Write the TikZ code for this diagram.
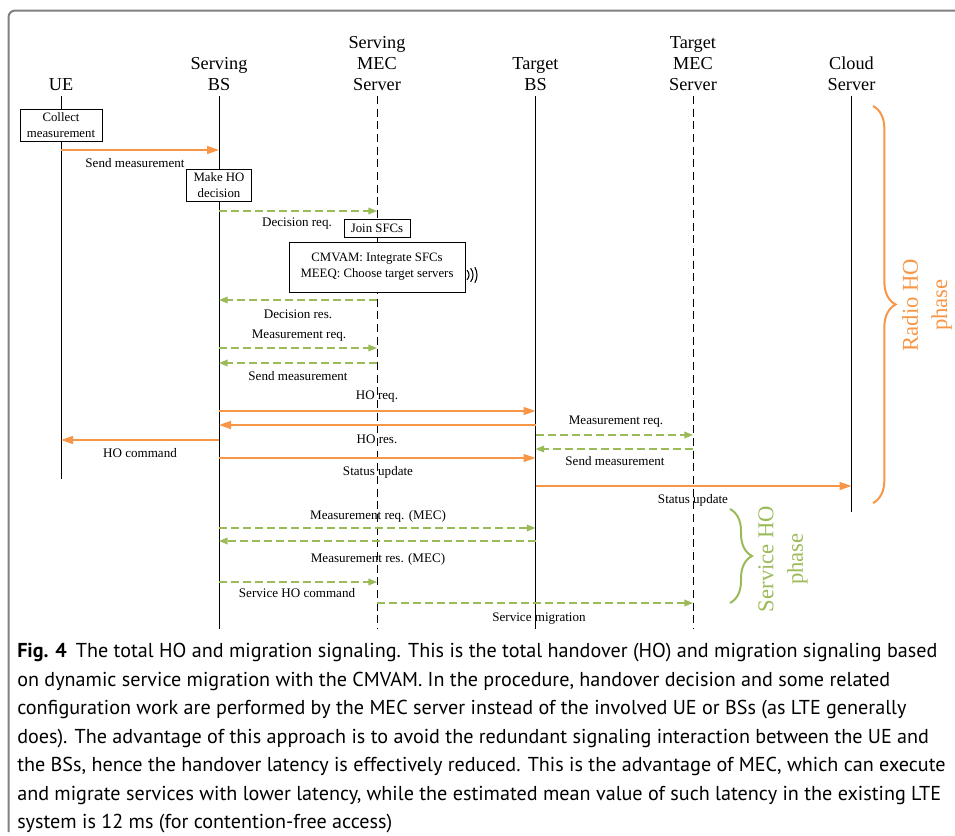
\documentclass[tikz,border=0pt]{standalone}
\usepackage{fontspec}
\setmainfont{Liberation Serif}
\newfontfamily\capfont{PT Sans}
\usepackage{tikz}
\usetikzlibrary{arrows.meta,decorations.pathreplacing}
\definecolor{hoorange}{RGB}{247,150,70}
\definecolor{hogreen}{RGB}{155,187,89}
\definecolor{framegray}{RGB}{128,128,128}
\tikzstyle{headlabel} = [anchor=south, align=center, inner sep=4pt, font=\fontsize{13.7}{15.8}\selectfont]
\tikzstyle{actbox} = [draw=black, thin, rectangle, fill=white, align=center, inner sep=1pt, font=\fontsize{9.6}{12}\selectfont]
\tikzstyle{msglabel} = [inner sep=0pt, font=\fontsize{9.8}{12}\selectfont]
\tikzstyle{lifeline} = [black, thin]
\tikzstyle{meclife} = [black, thin, dash pattern=on 6pt off 3.5pt]
\tikzstyle{radiomsg} = [hoorange, line width=1.1pt, -{Triangle[length=9pt,width=6pt]}]
\tikzstyle{servmsg} = [hogreen, line width=1.1pt, dash pattern=on 6pt off 3pt, -{Triangle[length=6.5pt,width=5pt]}]
\tikzstyle{phasebrace} = [line width=1.5pt, decorate, decoration={brace, amplitude=17pt}]
\tikzstyle{phaselabel} = [rotate=90, align=center, inner sep=0pt, font=\fontsize{17}{22}\selectfont]

\begin{document}
\begin{tikzpicture}[x=0.75pt,y=-0.75pt]
\useasboundingbox (0,0) rectangle (955,835);
\draw[framegray, line width=1.5pt, rounded corners=5pt] (8.5,832) -- (8.5,10.5) -- (957,10.5);

% entities
\node[headlabel] (ue) at (61,96) {UE};
\node[headlabel] (sbs) at (219,96) {Serving\\BS};
\node[headlabel] (smec) at (377,96) {Serving\\MEC\\Server};
\node[headlabel] (tbs) at (535.5,96) {Target\\BS};
\node[headlabel] (tmec) at (693,96) {Target\\MEC\\Server};
\node[headlabel] (cloud) at (851.5,96) {Cloud\\Server};

% lifelines
\coordinate (ue-end) at (61,479);
\coordinate (sbs-end) at (219,629);
\coordinate (smec-end) at (377,629);
\coordinate (tbs-end) at (535.5,629);
\coordinate (tmec-end) at (693,629);
\coordinate (cloud-end) at (851.5,512);
\draw[lifeline] (ue.south) -- (ue-end);
\draw[lifeline] (sbs.south) -- (sbs-end);
\draw[meclife] (smec.south) -- (smec-end);
\draw[lifeline] (tbs.south) -- (tbs-end);
\draw[meclife] (tmec.south) -- (tmec-end);
\draw[lifeline] (cloud.south) -- (cloud-end);

% local actions
\node[actbox, minimum width=61.5pt, minimum height=24pt] (collect) at (61,125) {Collect\\measurement};
\node[actbox, minimum width=48.75pt, minimum height=24pt] (makeho) at (219,185) {Make HO\\decision};
\node[actbox, minimum width=49.5pt, minimum height=13.5pt] (join) at (377,228) {Join SFCs};
\node[actbox, minimum width=132pt, minimum height=37.5pt] (cmvam) at (377,267) {CMVAM: Integrate SFCs\\MEEQ: Choose target servers};
\coordinate (wifi) at (462,275);
\foreach \r/\a in {7/45,11/38,15/31}
  \draw[black, line width=0.8pt] (wifi) ++(-\a:\r) arc[start angle=-\a, end angle=\a, radius=\r];

% radio HO signaling
\draw[radiomsg] (ue |- 0,150) -- (sbs |- 0,150);
\draw[servmsg] (sbs |- 0,211) -- (smec |- 0,211);
\draw[servmsg] (smec |- 0,300) -- (sbs |- 0,300);
\draw[servmsg] (sbs |- 0,348) -- (smec |- 0,348);
\draw[servmsg] (smec |- 0,363) -- (sbs |- 0,363);
\draw[radiomsg] (sbs |- 0,411) -- (tbs |- 0,411);
\draw[radiomsg] (tbs |- 0,425) -- (sbs |- 0,425);
\draw[radiomsg] (sbs |- 0,440) -- (ue |- 0,440);
\draw[radiomsg] (sbs |- 0,458) -- (tbs |- 0,458);
\draw[servmsg] (tbs |- 0,435) -- (tmec |- 0,435);
\draw[servmsg] (tmec |- 0,449) -- (tbs |- 0,449);
\draw[radiomsg] (tbs |- 0,486) -- (cloud |- 0,486);

% service HO signaling
\draw[servmsg] (sbs |- 0,528) -- (tbs |- 0,528);
\draw[servmsg] (tbs |- 0,541) -- (sbs |- 0,541);
\draw[servmsg] (sbs |- 0,582) -- (smec |- 0,582);
\draw[servmsg] (smec |- 0,603) -- (tmec |- 0,603);

\node[msglabel] (l-send1) at (135,163) {Send measurement};
\node[msglabel] (l-decreq) at (297,224) {Decision req.};
\node[msglabel] (l-decres) at (298,314) {Decision res.};
\node[msglabel] (l-measreq1) at (299,336) {Measurement req.};
\node[msglabel] (l-send2) at (298,376) {Send measurement};
\node[msglabel] (l-horeq) at (377,397) {HO req.};
\node[msglabel] (l-hores) at (377,439) {HO res.};
\node[msglabel] (l-hocmd) at (140,453) {HO command};
\node[msglabel] (l-status1) at (378,472) {Status update};
\node[msglabel] (l-measreq2) at (616,422) {Measurement req.};
\node[msglabel] (l-send3) at (615,461) {Send measurement};
\node[msglabel] (l-status2) at (693,500) {Status update};
\node[msglabel] (l-measreqmec) at (378,516) {Measurement req. (MEC)};
\node[msglabel] (l-measresmec) at (378,559) {Measurement res. (MEC)};
\node[msglabel] (l-servcmd) at (297,593) {Service HO command};
\node[msglabel] (l-migr) at (539,619) {Service migration};

% phases
\draw[phasebrace, hoorange] (873,106) -- (873,503);
\node[phaselabel, text=hoorange] (radio-lbl) at (927,305) {Radio HO\\phase};
\draw[phasebrace, hogreen, decoration={amplitude=16.5pt}] (730,509) -- (730,603);
\node[phaselabel, text=hogreen] (serv-lbl) at (783,559) {Service HO\\phase};

% caption
\node[anchor=north west, align=left, inner sep=0pt, font=\capfont\fontsize{15.1}{21.4}\selectfont] (caption) at (17,643)
{\textbf{Fig. 4}\hspace{0.45em}The total HO and migration signaling. This is the total handover (HO) and migration signaling based\\
on dynamic service migration with the CMVAM. In the procedure, handover decision and some related\\
configuration work are performed by the MEC server instead of the involved UE or BSs (as LTE generally\\
does). The advantage of this approach is to avoid the redundant signaling interaction between the UE and\\
the BSs, hence the handover latency is effectively reduced. This is the advantage of MEC, which can execute\\
and migrate services with lower latency, while the estimated mean value of such latency in the existing LTE\\
system is 12 ms (for contention-free access)};
\end{tikzpicture}
\end{document}
